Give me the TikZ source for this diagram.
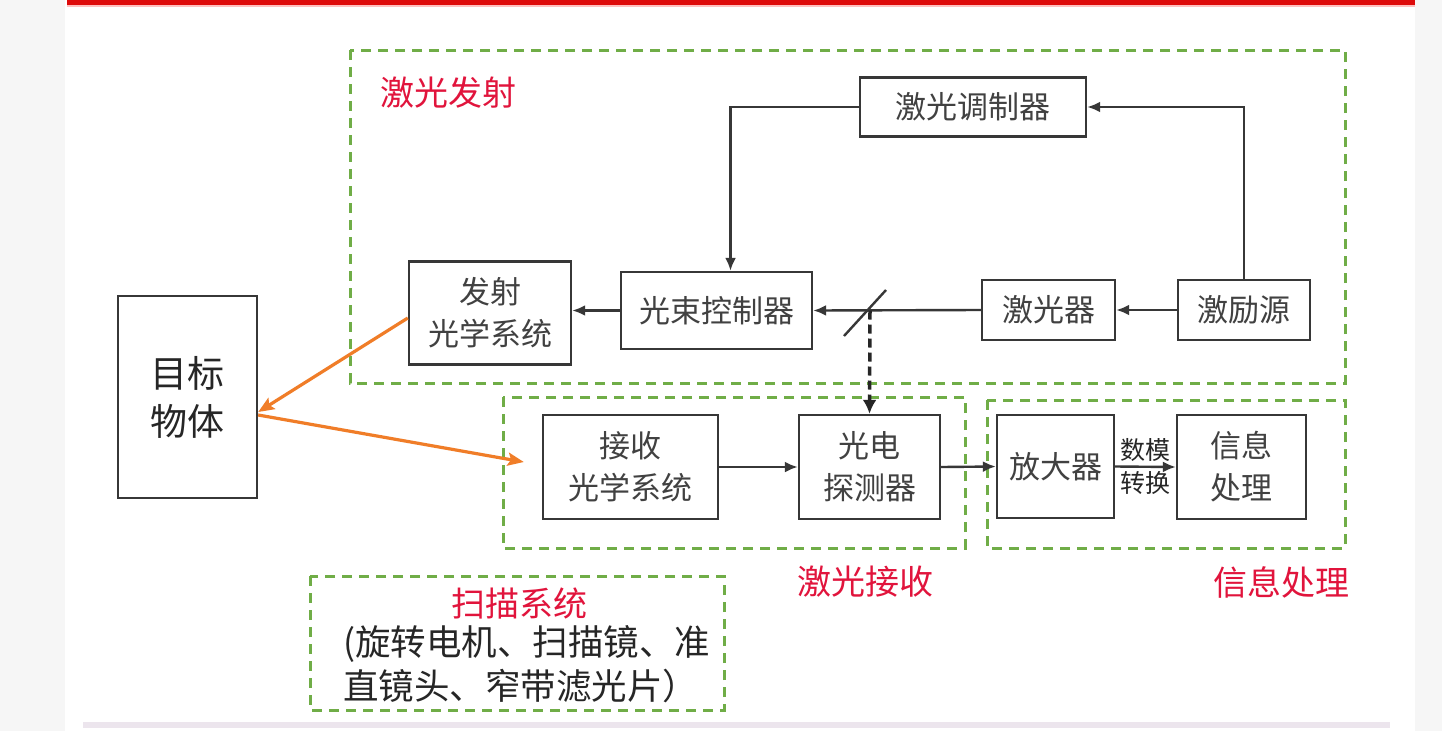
\documentclass[tikz,border=0pt]{standalone}
\usepackage{fontspec}
\newfontfamily\cjk{Noto Sans CJK SC}
\usetikzlibrary{arrows.meta}
\definecolor{gdash}{RGB}{112,173,71}
\definecolor{redtxt}{RGB}{225,20,60}
\definecolor{boxline}{RGB}{55,55,55}
\definecolor{boxtxt}{RGB}{65,65,65}
\definecolor{orangeL}{RGB}{240,125,40}
\definecolor{topred}{RGB}{222,10,10}
\definecolor{sidegrey}{RGB}{246,246,246}
\definecolor{botline}{RGB}{236,229,237}
\begin{document}
\begin{tikzpicture}[x=1pt,y=-1pt,
  blk/.style={draw=boxline, line width=2.4pt, fill=white, inner sep=0pt, text=boxtxt,
    font=\cjk\fontsize{31}{42}\selectfont, align=center},
  grp/.style={draw=gdash, line width=3pt, dash pattern=on 10pt off 7pt},
  lbl/.style={text=redtxt, font=\cjk\fontsize{34}{40}\selectfont, inner sep=0pt},
  conn/.style={draw=boxline, line width=2.4pt, -{Latex[length=13pt,width=11pt]}},
  splitline/.style={draw=boxline, line width=2.4pt},
  darrow/.style={draw=black!85, line width=3.5pt, dash pattern=on 9pt off 5pt, -{Latex[length=14pt,width=14pt]}},
  oarrow/.style={draw=orangeL, line width=3.2pt, -{Stealth[length=16pt,width=13pt,inset=3pt]}},
  note/.style={text=black!85, font=\cjk\fontsize{35.5}{44}\selectfont, inner sep=0pt, align=left}]
\useasboundingbox (0,0) rectangle (1442,731);
\fill[sidegrey] (0,0) rectangle (1442,731);
\fill[white] (65,0) rectangle (1415,731);
\fill[topred] (67,0) rectangle (1415,5);
\fill[red!25] (67,5) rectangle (1415,7);
\fill[botline] (83,722) rectangle (1390,728);

% groups
\draw[grp] (350,50) rectangle (1345,383);
\draw[grp] (503,397) rectangle (965,548);
\draw[grp] (987,400) rectangle (1345,548);
\draw[grp] (310,576) rectangle (724,710);

% blocks
\node[blk, minimum width=226pt, minimum height=59pt] (mod) at (973,107) {激光调制器};
\node[blk, minimum width=162pt, minimum height=103pt] (tx) at (490,313) {发射\\光学系统};
\node[blk, minimum width=191pt, minimum height=77pt] (bc) at (716.5,310.5) {光束控制器};
\node[blk, minimum width=133pt, minimum height=60pt] (las) at (1048.5,310) {激光器};
\node[blk, minimum width=132pt, minimum height=60pt] (src) at (1244,310) {激励源};
\node[blk, minimum width=139pt, minimum height=202pt, font=\cjk\fontsize{37}{48}\selectfont, text=black!85] (tgt) at (187.5,397) {目标\\物体};
\node[blk, minimum width=175pt, minimum height=104pt] (rx) at (630.5,467) {接收\\光学系统};
\node[blk, minimum width=141pt, minimum height=104pt] (pd) at (869.5,467) {光电\\探测器};
\node[blk, minimum width=117pt, minimum height=103pt] (amp) at (1055.5,466.5) {放大器};
\node[blk, minimum width=129pt, minimum height=104pt] (sp) at (1241.5,467) {信息\\处理};

% connectors
\draw[conn] (src.north) |- (mod.east);
\draw[conn] (mod.west) -| ([xshift=14pt]bc.north);
\draw[conn] (src.west) -- (las.east);
\coordinate (spl) at (870,310.5);
\draw[conn] (las.west) -- (bc.east);
\draw[splitline] (844,336) -- (886,290);
\draw[darrow] (spl) -- (pd.north);
\draw[conn] (bc.west) -- (bc.west -| tx.east);
\draw[conn] (rx.east) -- (pd.west);
\draw[conn] (pd.east) -- (amp.west);
\draw[conn] (amp.east) -- (sp.west);
\node[text=black!85, font=\cjk\fontsize{25}{33}\selectfont, align=center, inner sep=0pt] (dac) at (1145,466) {数模\\转换};

% orange beams
\draw[oarrow] ([yshift=-5pt]tx.west) -- ([yshift=-15pt]tgt.east);
\draw[oarrow] ([yshift=-18pt]tgt.east) -- ([xshift=-18pt,yshift=5pt]rx.west);

% labels
\node[lbl, anchor=west] (l1) at (380,93) {激光发射};
\node[lbl, anchor=west] (l2) at (797,582) {激光接收};
\node[lbl, anchor=west] (l3) at (1213,582) {信息处理};
\node[lbl] (l4) at (519,603) {扫描系统};
\node[note, anchor=north west] (n1) at (343,625) {(旋转电机、扫描镜、准\\直镜头、窄带滤光片）};
\end{tikzpicture}
\end{document}
